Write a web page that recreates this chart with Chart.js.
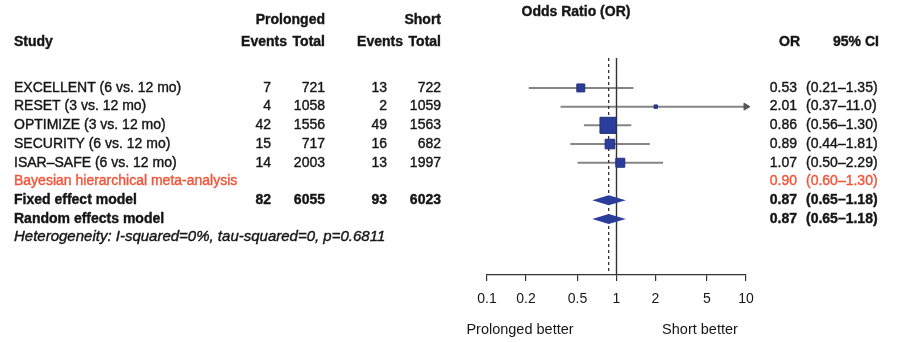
<!DOCTYPE html>
<html>
<head>
<meta charset="utf-8">
<script src="https://cdn.jsdelivr.net/npm/chart.js@4.4.1/dist/chart.umd.min.js"></script>
<style>
  html, body { margin: 0; padding: 0; background: #fff; }
</style>
</head>
<body>
<canvas id="forest" width="897" height="342"></canvas>
<script>
// study rows
const studies = ['EXCELLENT (6 vs. 12 mo)', 'RESET (3 vs. 12 mo)', 'OPTIMIZE (3 vs. 12 mo)', 'SECURITY (6 vs. 12 mo)', 'ISAR–SAFE (6 vs. 12 mo)'];
const prolongedEvents = [7, 4, 42, 15, 14];
const prolongedTotal = [721, 1058, 1556, 717, 2003];
const shortEvents = [13, 2, 49, 16, 13];
const shortTotal = [722, 1059, 1563, 682, 1997];
const oddsRatio = [0.53, 2.01, 0.86, 0.89, 1.07];
const ciLower = [0.21, 0.37, 0.56, 0.44, 0.50];
const ciUpper = [1.35, 11.0, 1.30, 1.81, 2.29];
const studyWeight = [11, 2, 45, 16, 14];

// bayesian row
const bayesLabel = 'Bayesian hierarchical meta-analysis';
const bayesOR = 0.90, bayesLower = 0.60, bayesUpper = 1.30;

// pooled rows
const pooledModels = ['Fixed effect model', 'Random effects model'];
const pooledOR = [0.87, 0.87];
const pooledLower = [0.65, 0.65];
const pooledUpper = [1.18, 1.18];
const pooledProlonged = [82, 6055];
const pooledShort = [93, 6023];
const heterogeneity = 'Heterogeneity: I-squared=0%, tau-squared=0, p=0.6811';

const tickValues = [0.1, 0.2, 0.5, 1, 2, 5, 10];
const xMin = 0.1, xMax = 10;

// vertical range of the plot region, in row units (row 0 = first study)
const yTop = -1.6, yBottom = 10.0;

const FONT = "'Liberation Sans', Arial, sans-serif";
const TEXT = '#161616';
const RED = '#f2553a';
const NAVY = '#2b3d9a';
const GREY = '#858585';

const fmt = v => v >= 10 ? v.toFixed(1) : v.toFixed(2);
const ciText = (lo, hi) => '(' + fmt(lo) + '–' + fmt(hi) + ')';

const ciSets = studies.map((s, i) => ({
    type: 'line',
    data: [{ x: ciLower[i], y: i }, { x: Math.min(ciUpper[i], xMax), y: i }],
    borderColor: GREY,
    borderWidth: 2,
    pointRadius: 0,
    clip: false,
    order: 4
}));

const arrowRows = studies.map((s, i) => i).filter(i => ciUpper[i] > xMax);

const datasets = [
    ...ciSets,
    {
        type: 'line',
        data: [{ x: 1, y: yTop }, { x: 1, y: yBottom }],
        borderColor: '#333',
        borderWidth: 1.4,
        pointRadius: 0,
        order: 3
    },
    {
        type: 'line',
        data: [{ x: pooledOR[0], y: yTop }, { x: pooledOR[0], y: yBottom }],
        borderColor: '#333',
        borderWidth: 1.3,
        borderDash: [3, 3],
        pointRadius: 0,
        order: 2
    },
    {
        type: 'scatter',
        data: oddsRatio.map((v, i) => ({ x: v, y: i })),
        pointStyle: 'rect',
        pointRadius: studyWeight.map(w => Math.sqrt(w) * 2.4 / Math.SQRT2),
        backgroundColor: NAVY,
        borderColor: '#27307a',
        borderWidth: 1,
        order: 1
    },
    {
        type: 'scatter',
        data: arrowRows.map(i => ({ x: xMax, y: i })),
        pointStyle: 'triangle',
        rotation: 90,
        pointRadius: 4,
        backgroundColor: '#555',
        borderColor: '#555',
        clip: false,
        order: 1
    }
];

// pooled diamonds
const diamondPlugin = {
    id: 'diamonds',
    afterDatasetsDraw(chart) {
        const { ctx, scales: { x, y } } = chart;
        ctx.save();
        ctx.fillStyle = NAVY;
        pooledModels.forEach((m, i) => {
            const py = y.getPixelForValue(6 + i);
            const x0 = x.getPixelForValue(pooledLower[i]);
            const xc = x.getPixelForValue(pooledOR[i]);
            const x1 = x.getPixelForValue(pooledUpper[i]);
            ctx.beginPath();
            ctx.moveTo(x0, py);
            ctx.lineTo(xc, py - 5);
            ctx.lineTo(x1, py);
            ctx.lineTo(xc, py + 5);
            ctx.closePath();
            ctx.fill();
        });
        ctx.restore();
    }
};

// text columns
const tablePlugin = {
    id: 'table',
    afterDraw(chart) {
        const { ctx, scales: { y } } = chart;
        const put = (txt, px, row, align, font, color) => {
            ctx.font = font;
            ctx.textAlign = align;
            ctx.textBaseline = 'middle';
            ctx.fillStyle = color || TEXT;
            ctx.strokeStyle = color || TEXT;
            ctx.lineWidth = 0.4; // the source image is heavy and blurred
            const py = y.getPixelForValue(row);
            ctx.fillText(txt, px, py);
            ctx.strokeText(txt, px, py);
        };
        const plain = '14px ' + FONT;
        const bold = 'bold 14px ' + FONT;
        ctx.save();

        // headers
        put('Prolonged', 325, -3.64, 'right', bold);
        put('Short', 441, -3.64, 'right', bold);
        put('Study', 14, -2.46, 'left', bold);
        put('Events', 287, -2.46, 'right', bold);
        put('Total', 325, -2.46, 'right', bold);
        put('Events', 403, -2.46, 'right', bold);
        put('Total', 441, -2.46, 'right', bold);
        put('Odds Ratio (OR)', 576, -4.06, 'center', bold);
        put('OR', 800, -2.46, 'right', bold);
        put('95% CI', 856, -2.46, 'center', bold);

        studies.forEach((s, i) => {
            put(s, 14, i, 'left', plain);
            put(String(prolongedEvents[i]), 271, i, 'right', plain);
            put(String(prolongedTotal[i]), 325, i, 'right', plain);
            put(String(shortEvents[i]), 387, i, 'right', plain);
            put(String(shortTotal[i]), 441, i, 'right', plain);
            put(fmt(oddsRatio[i]), 797, i, 'right', plain);
            put(ciText(ciLower[i], ciUpper[i]), 806, i, 'left', plain);
        });

        put(bayesLabel, 14, 5, 'left', plain, RED);
        put(fmt(bayesOR), 797, 5, 'right', plain, RED);
        put(ciText(bayesLower, bayesUpper), 806, 5, 'left', plain, RED);

        pooledModels.forEach((m, i) => {
            const row = 6 + i;
            put(m, 14, row, 'left', bold);
            if (i === 0) {
                put(String(pooledProlonged[0]), 271, row, 'right', bold);
                put(String(pooledProlonged[1]), 325, row, 'right', bold);
                put(String(pooledShort[0]), 387, row, 'right', bold);
                put(String(pooledShort[1]), 441, row, 'right', bold);
            }
            put(fmt(pooledOR[i]), 797, row, 'right', bold);
            put(ciText(pooledLower[i], pooledUpper[i]), 806, row, 'left', bold);
        });

        put(heterogeneity, 14, 7.98, 'left', 'italic 15px ' + FONT);

        // labels under the axis
        ctx.font = '14.5px ' + FONT;
        ctx.fillStyle = TEXT;
        ctx.textBaseline = 'middle';
        ctx.textAlign = 'center';
        ctx.fillText('Prolonged better', 520, 330);
        ctx.fillText('Short better', 700, 330);
        ctx.restore();
    }
};

new Chart(document.getElementById('forest').getContext('2d'), {
    type: 'scatter',
    data: { datasets: datasets },
    options: {
        responsive: false,
        animation: false,
        layout: { padding: { left: 487, right: 151, top: 58, bottom: 37 } },
        plugins: { legend: { display: false }, tooltip: { enabled: false } },
        scales: {
            x: {
                type: 'logarithmic',
                min: xMin,
                max: xMax,
                afterBuildTicks: axis => { axis.ticks = tickValues.map(v => ({ value: v })); },
                afterFit: axis => { axis.height = 30; },
                ticks: {
                    callback: v => String(v),
                    font: { family: FONT, size: 14 },
                    color: TEXT,
                    padding: 10,
                    autoSkip: false,
                    maxRotation: 0
                },
                grid: { drawOnChartArea: false, drawTicks: true, tickLength: 6, color: '#333', lineWidth: 1.2 },
                border: { display: true, color: '#333', width: 1.2 }
            },
            y: { type: 'linear', min: yTop, max: yBottom, reverse: true, display: false }
        }
    },
    plugins: [diamondPlugin, tablePlugin]
});
</script>
</body>
</html>
